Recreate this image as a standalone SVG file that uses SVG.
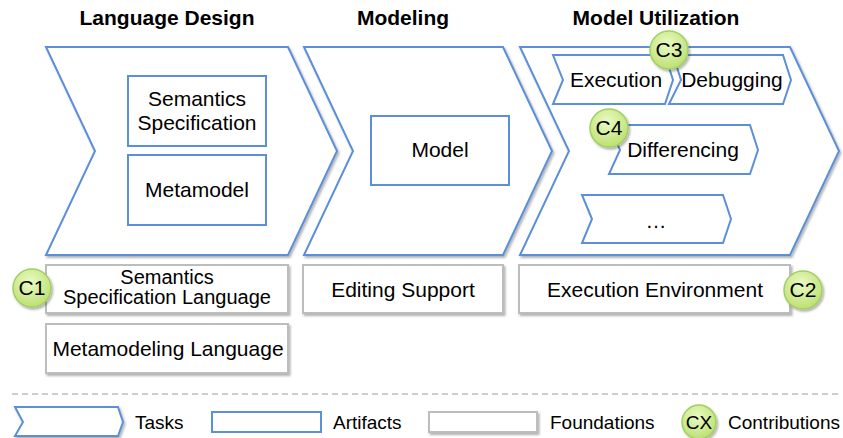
<svg xmlns="http://www.w3.org/2000/svg" width="843" height="438" viewBox="0 0 843 438">
<defs>
<filter id="sh" x="-10%" y="-10%" width="130%" height="140%">
<feDropShadow dx="1.5" dy="2" stdDeviation="1.2" flood-color="#000" flood-opacity="0.3"/>
</filter>
<radialGradient id="gg" cx="45%" cy="35%" r="65%">
<stop offset="0" stop-color="#eafbc6"/>
<stop offset="1" stop-color="#bde072"/>
</radialGradient>
<style>
.task{fill:#fff;stroke:#5b8fd8;stroke-width:2;filter:url(#sh)}
.art{fill:#fff;stroke:#5b8fd8;stroke-width:2}
.fnd{fill:#fff;stroke:#bdbdbd;stroke-width:2;filter:url(#sh)}
.con{fill:url(#gg);stroke:#a2cf62;stroke-width:1.5;filter:url(#sh)}
text{font-family:"Liberation Sans",Arial,sans-serif;fill:#000}
.t{font-size:21px;font-weight:bold;text-anchor:middle}
.l{font-size:21px;text-anchor:middle}
.lg{font-size:19px}
.c{font-size:21px;text-anchor:middle}
</style>
</defs>
<rect width="843" height="438" fill="#fff"/>

<g id="titles">
<text class="t" x="167" y="25">Language Design</text>
<text class="t" x="403" y="25">Modeling</text>
<text class="t" x="656" y="25">Model Utilization</text>
</g>

<g id="language-design">
<path class="task" d="M46,47 L288,47 L337,151 L288,255 L46,255 L95,151 Z"/>
<g id="semantics-specification">
<rect class="art" x="128" y="76" width="138" height="70"/>
<text class="l" x="197" y="106">Semantics</text>
<text class="l" x="197" y="130">Specification</text>
</g>
<g id="metamodel">
<rect class="art" x="128" y="155" width="138" height="70"/>
<text class="l" x="197" y="197">Metamodel</text>
</g>
</g>

<g id="modeling">
<path class="task" d="M304,47 L503,47 L552,151 L503,255 L304,255 L353,151 Z"/>
<g id="model">
<rect class="art" x="371" y="116" width="138" height="69"/>
<text class="l" x="440" y="157">Model</text>
</g>
</g>

<g id="model-utilization">
<path class="task" d="M520,47 L790,47 L839,151 L790,255 L520,255 L569,151 Z"/>
<g id="execution">
<path class="art" d="M553,55 L665,55 L673,80 L665,104 L553,104 L563,80 Z"/>
<text class="l" x="616" y="87">Execution</text>
</g>
<g id="debugging">
<path class="art" d="M673,55 L783,55 L791,80 L783,104 L669,104 L681,80 Z"/>
<text class="l" x="732" y="87">Debugging</text>
</g>
<g id="differencing">
<path class="art" d="M609,125 L750,125 L758,150 L750,174 L609,174 L620,150 Z"/>
<text class="l" x="683" y="157">Differencing</text>
</g>
<g id="more">
<path class="art" d="M582,195 L723,195 L731,219 L723,243 L582,243 L592,219 Z"/>
<text class="l" x="656" y="228">…</text>
</g>
</g>

<g id="foundations">
<g id="semantics-specification-language">
<rect class="fnd" x="46" y="265" width="242" height="48"/>
<text class="l" x="167" y="284" style="font-size:20px">Semantics</text>
<text class="l" x="167" y="304" style="font-size:20px">Specification Language</text>
</g>
<g id="metamodeling-language">
<rect class="fnd" x="46" y="324" width="242" height="49"/>
<text class="l" x="168" y="356">Metamodeling Language</text>
</g>
<g id="editing-support">
<rect class="fnd" x="303" y="265" width="200" height="48"/>
<text class="l" x="403" y="297">Editing Support</text>
</g>
<g id="execution-environment">
<rect class="fnd" x="519" y="265" width="271" height="48"/>
<text class="l" x="655" y="297">Execution Environment</text>
</g>
</g>

<g id="contributions">
<g id="c1"><circle class="con" cx="32" cy="288" r="19"/><text class="c" x="32" y="295">C1</text></g>
<g id="c2"><circle class="con" cx="803" cy="290" r="19"/><text class="c" x="803" y="297">C2</text></g>
<g id="c3"><circle class="con" cx="669" cy="50" r="19"/><text class="c" x="669" y="57">C3</text></g>
<g id="c4"><circle class="con" cx="609" cy="128" r="19"/><text class="c" x="609" y="135">C4</text></g>
</g>

<g id="connectors"></g>

<line x1="12" y1="394" x2="840" y2="394" stroke="#bfbfbf" stroke-width="1.5" stroke-dasharray="6,4"/>

<g id="legend">
<path class="task" d="M15,407 L118,407 L123,422 L118,436 L15,436 L23,422 Z"/>
<text class="lg" x="135" y="429">Tasks</text>
<rect class="art" x="212" y="412" width="109" height="20"/>
<text class="lg" x="333" y="429">Artifacts</text>
<rect class="fnd" x="429" y="412" width="108" height="20"/>
<text class="lg" x="550" y="429">Foundations</text>
<circle class="con" cx="699" cy="422" r="17"/>
<text class="c" x="699" y="429" style="font-size:19px">CX</text>
<text class="lg" x="728" y="429">Contributions</text>
</g>
</svg>
